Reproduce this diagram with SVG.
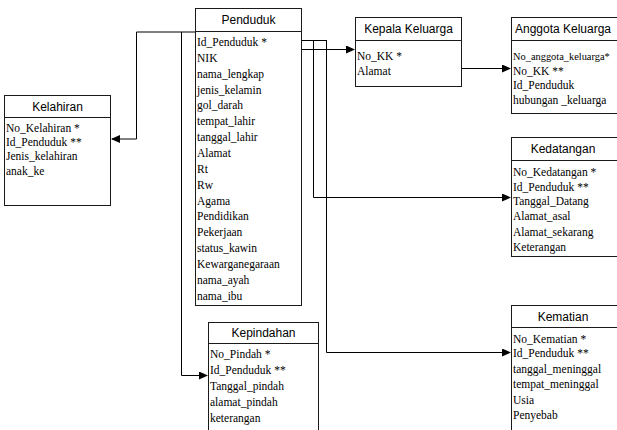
<svg xmlns="http://www.w3.org/2000/svg" width="617" height="430" viewBox="0 0 617 430">
  <style>
    .box { fill: #ffffff; stroke: #1a1a1a; stroke-width: 1; }
    .sep { stroke: #1a1a1a; stroke-width: 1; }
    .hdr { font-family: "Liberation Sans", Arial, sans-serif; font-size: 12px; fill: #000; text-anchor: middle; }
    .row { font-family: "Liberation Serif", "Times New Roman", serif; font-size: 11.5px; fill: #000; }
    .row.tight { font-size: 10.4px; }
    .conn { fill: none; stroke: #000; stroke-width: 1; }
  </style>
  <defs>
    <marker id="arrow" markerWidth="9" markerHeight="8" refX="8" refY="4" orient="auto" markerUnits="userSpaceOnUse">
      <path d="M0,0 L9,4 L0,8 Z" fill="#000"/>
    </marker>
  </defs>

  <!-- relationship lines -->
  <g id="connectors">
    <polyline class="conn" points="195,32 136.5,32 136.5,139 112,139" marker-end="url(#arrow)"/>
    <polyline class="conn" points="181.5,32 181.5,375.5 207,375.5" marker-end="url(#arrow)"/>
    <line class="conn" x1="301" y1="49.5" x2="354" y2="49.5" marker-end="url(#arrow)"/>
    <line class="conn" x1="301" y1="40.5" x2="327" y2="40.5"/>
    <polyline class="conn" points="313.5,40.5 313.5,197.5 510,197.5" marker-end="url(#arrow)"/>
    <polyline class="conn" points="326.5,40.5 326.5,352.5 510,352.5" marker-end="url(#arrow)"/>
    <line class="conn" x1="462" y1="68.5" x2="510" y2="68.5" marker-end="url(#arrow)"/>
  </g>

  <g id="penduduk">
    <rect class="box" x="195.5" y="8.5" width="106" height="297"/>
    <line class="sep" x1="195.5" y1="31.5" x2="301.5" y2="31.5"/>
    <text class="hdr" x="248.5" y="24">Penduduk</text>
    <text class="row" x="197" y="46">Id_Penduduk *</text>
    <text class="row" x="197" y="61.8">NIK</text>
    <text class="row" x="197" y="77.7">nama_lengkap</text>
    <text class="row" x="197" y="93.5">jenis_kelamin</text>
    <text class="row" x="197" y="109.4">gol_darah</text>
    <text class="row" x="197" y="125.2">tempat_lahir</text>
    <text class="row" x="197" y="141.1">tanggal_lahir</text>
    <text class="row" x="197" y="156.9">Alamat</text>
    <text class="row" x="197" y="172.8">Rt</text>
    <text class="row" x="197" y="188.6">Rw</text>
    <text class="row" x="197" y="204.5">Agama</text>
    <text class="row" x="197" y="220.3">Pendidikan</text>
    <text class="row" x="197" y="236.2">Pekerjaan</text>
    <text class="row" x="197" y="252">status_kawin</text>
    <text class="row" x="197" y="267.9">Kewarganegaraan</text>
    <text class="row" x="197" y="283.7">nama_ayah</text>
    <text class="row" x="197" y="299.6">nama_ibu</text>
  </g>

  <g id="kelahiran">
    <rect class="box" x="4.5" y="95.5" width="106" height="110"/>
    <line class="sep" x1="4.5" y1="117.5" x2="110.5" y2="117.5"/>
    <text class="hdr" x="57.5" y="111">Kelahiran</text>
    <text class="row" x="6" y="131.5">No_Kelahiran *</text>
    <text class="row" x="6" y="145.5">Id_Penduduk **</text>
    <text class="row" x="6" y="160">Jenis_kelahiran</text>
    <text class="row" x="6" y="174.5">anak_ke</text>
  </g>

  <g id="kepala-keluarga">
    <rect class="box" x="355.5" y="17.5" width="106" height="69"/>
    <line class="sep" x1="355.5" y1="40.5" x2="461.5" y2="40.5"/>
    <text class="hdr" x="408.5" y="33">Kepala Keluarga</text>
    <text class="row" x="357" y="60">No_KK *</text>
    <text class="row" x="357" y="75">Alamat</text>
  </g>

  <g id="anggota-keluarga">
    <rect class="box" x="511.5" y="17.5" width="120" height="96"/>
    <line class="sep" x1="511.5" y1="40.5" x2="631" y2="40.5"/>
    <text class="hdr" x="563" y="33">Anggota Keluarga</text>
    <text class="row tight" x="513" y="60">No_anggota_keluarga*</text>
    <text class="row" x="513" y="74.5">No_KK **</text>
    <text class="row" x="513" y="89">Id_Penduduk</text>
    <text class="row" x="513" y="103.5">hubungan _keluarga</text>
  </g>

  <g id="kedatangan">
    <rect class="box" x="511.5" y="137.5" width="120" height="119"/>
    <line class="sep" x1="511.5" y1="160.5" x2="631" y2="160.5"/>
    <text class="hdr" x="563" y="153">Kedatangan</text>
    <text class="row" x="513" y="176">No_Kedatangan *</text>
    <text class="row" x="513" y="190.5">Id_Penduduk **</text>
    <text class="row" x="513" y="205">Tanggal_Datang</text>
    <text class="row" x="513" y="220">Alamat_asal</text>
    <text class="row" x="513" y="235.5">Alamat_sekarang</text>
    <text class="row" x="513" y="251">Keterangan</text>
  </g>

  <g id="kepindahan">
    <rect class="box" x="208.5" y="322.5" width="110" height="120"/>
    <line class="sep" x1="208.5" y1="343.5" x2="318.5" y2="343.5"/>
    <text class="hdr" x="263.5" y="337">Kepindahan</text>
    <text class="row" x="210" y="358">No_Pindah *</text>
    <text class="row" x="210" y="374">Id_Penduduk **</text>
    <text class="row" x="210" y="390">Tanggal_pindah</text>
    <text class="row" x="210" y="406">alamat_pindah</text>
    <text class="row" x="210" y="422">keterangan</text>
  </g>

  <g id="kematian">
    <rect class="box" x="511.5" y="305.5" width="120" height="140"/>
    <line class="sep" x1="511.5" y1="327.5" x2="631" y2="327.5"/>
    <text class="hdr" x="563" y="321">Kematian</text>
    <text class="row" x="513" y="343">No_Kematian *</text>
    <text class="row" x="513" y="357">Id_Penduduk **</text>
    <text class="row" x="513" y="372.5">tanggal_meninggal</text>
    <text class="row" x="513" y="388">tempat_meninggal</text>
    <text class="row" x="513" y="403.5">Usia</text>
    <text class="row" x="513" y="419">Penyebab</text>
  </g>
</svg>
